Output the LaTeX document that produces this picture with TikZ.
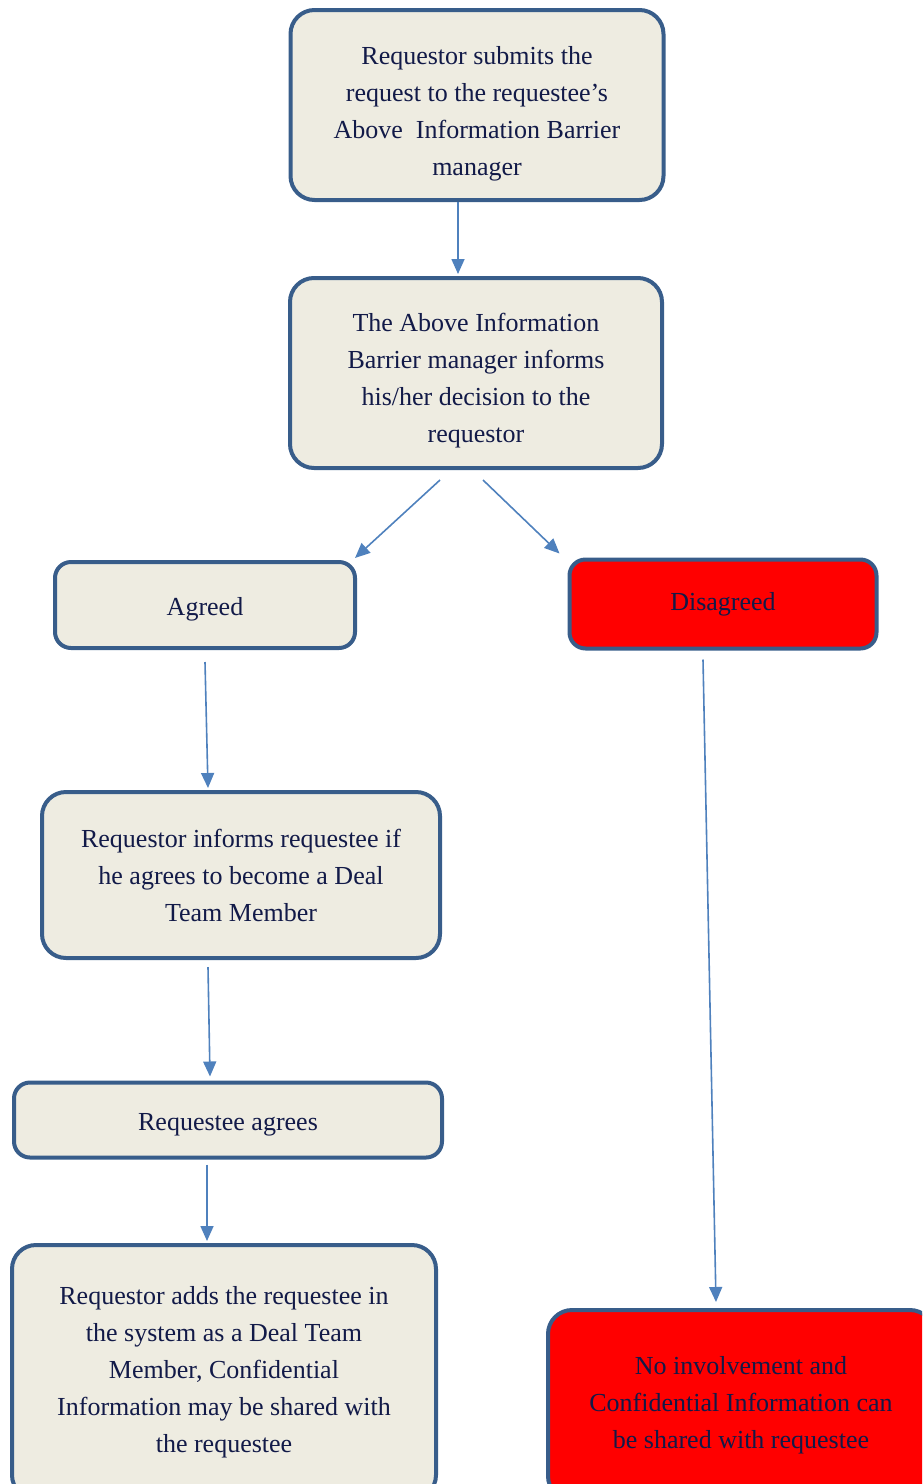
\documentclass[tikz,border=0pt]{standalone}
\usepackage{fontspec}
\setmainfont{Liberation Serif}
\usepackage{xcolor}
\usepackage{tikz}
\usetikzlibrary{
  arrows.meta,
  positioning,
  calc,
}

\definecolor{boxfill}{HTML}{EEECE1}
\definecolor{boxline}{HTML}{385D8A}
\definecolor{flowline}{HTML}{4F81BD}
\definecolor{boxtext}{HTML}{121A48}

\newcommand{\lowstrut}[1]{\rule{0pt}{#1}}

\begin{document}
\begin{tikzpicture}[
  x=0.5pt, y=-0.5pt,
  font=\fontsize{13}{18.5}\selectfont,
  every node/.style={align=center},
  stepbox/.style={draw=boxline, line width=2pt, fill=boxfill,
    rounded corners=12pt, text=boxtext, inner sep=0pt},
  stopbox/.style={stepbox, fill=red},
  flow/.style={draw=flowline, line width=0.8pt,
    -{Triangle[length=7.5pt,width=6.5pt]}},
]

\useasboundingbox (0,0) rectangle (922,1484);
\clip (0,0) rectangle (922,1484);

\node[stepbox, minimum width=186.5pt, minimum height=95pt] (submit) at (477,105)
  {\lowstrut{18pt}Requestor submits the\\request to the requestee's\\Above\ \ Information Barrier\\manager};
\node[stepbox, minimum width=186pt, minimum height=95pt] (decide) at (476,373)
  {\lowstrut{17pt}The Above Information\\Barrier manager informs\\his/her decision to the\\requestor};

\node[stepbox, rounded corners=8pt, minimum width=150pt, minimum height=43pt] (agreed) at (205,605) {\lowstrut{13pt}Agreed};
\node[stopbox, rounded corners=8pt, minimum width=153.5pt, minimum height=44.5pt] (disagreed) at (723,604) {Disagreed};

\node[stepbox, minimum width=199pt, minimum height=83pt] (informs) at (241,875)
  {Requestor informs requestee if\\he agrees to become a Deal\\Team Member};
\node[stepbox, rounded corners=8pt, minimum width=214pt, minimum height=37.5pt] (agrees) at (228,1120)
  {\lowstrut{13pt}Requestee agrees};
\node[stepbox, minimum width=212pt, minimum height=127pt] (adds) at (224,1372)
  {Requestor adds the requestee in\\the system as a Deal Team\\Member, Confidential\\Information may be shared with\\the requestee};
\node[stopbox, minimum width=193pt, minimum height=95pt] (noinv) at (741,1405)
  {No involvement and\\Confidential Information can\\be shared with requestee};

\draw[flow] ([xshift=-9.5pt]submit.south) -- ([xshift=-9pt,yshift=1pt]decide.north);
\draw[flow] ([xshift=-18pt,yshift=-5pt]decide.south) -- ([xshift=-1pt,yshift=1pt]agreed.north east);
\draw[flow] ([xshift=3.5pt,yshift=-5pt]decide.south) -- ([xshift=-4pt,yshift=2pt]disagreed.north west);
\draw[flow] ([yshift=-6pt]agreed.south) -- ([xshift=-16.5pt,yshift=1pt]informs.north);
\draw[flow] ([xshift=-10pt,yshift=-4.5pt]disagreed.south) -- ([xshift=-12.5pt,yshift=3pt]noinv.north);
\draw[flow] ([xshift=-16.5pt,yshift=-3.5pt]informs.south) -- ([xshift=-9pt,yshift=2pt]agrees.north);
\draw[flow] ([xshift=-10.5pt,yshift=-2.5pt]agrees.south) -- ([xshift=-8.5pt,yshift=1pt]adds.north);

\end{tikzpicture}
\end{document}
